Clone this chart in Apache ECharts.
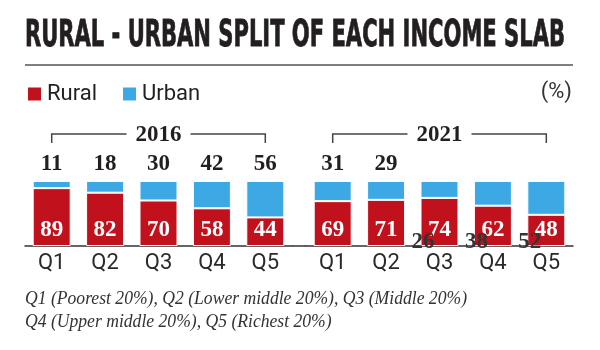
<!DOCTYPE html>
<html>
<head>
<meta charset="utf-8">
<script src="https://cdn.jsdelivr.net/npm/echarts@6/dist/echarts.min.js"></script>
<style>
    html, body { margin: 0; padding: 0; background: #fff; }
    #chart { width: 600px; height: 350px; }
</style>
</head>
<body>
<div id="chart"></div>
<script>
    'use strict'

    /* Chart data */
    var titleText = 'RURAL - URBAN SPLIT OF EACH INCOME SLAB';
    var unitText = '(%)';
    var quintiles = ['Q1', 'Q2', 'Q3', 'Q4', 'Q5'];
    var years = ['2016', '2021'];
    var rural2016 = [89, 82, 70, 58, 44];
    var urban2016 = [11, 18, 30, 42, 56];
    var rural2021 = [69, 71, 74, 62, 48];
    var urban2021 = [31, 29, 26, 38, 52];
    var notes = [
        'Q1 (Poorest 20%), Q2 (Lower middle 20%), Q3 (Middle 20%)',
        'Q4 (Upper middle 20%), Q5 (Richest 20%)'
    ];

    var red = '#c1111d';
    var blue = '#3ca9e5';
    var ink = '#231f20';
    var numFont = '"Liberation Serif", serif';
    var sansFont = 'Roboto, sans-serif';

    // in 2021 the urban labels of Q3-Q5 sit down by the axis in the original
    var strayLabels = [2, 3, 4];

    var grids = [
        { left: 25, width: 267, top: 181, height: 65 },
        { left: 306, width: 267, top: 181, height: 65 }
    ];

    var measure = document.createElement('canvas').getContext('2d');
    function textWidth(font, s) {
        measure.font = font;
        return measure.measureText(s).width;
    }

    function ruralSeries(data, idx) {
        return {
            name: 'Rural',
            type: 'bar',
            stack: 'y' + idx,
            xAxisIndex: idx,
            yAxisIndex: idx,
            barWidth: 38,
            data: data,
            itemStyle: { color: red, borderColor: '#fff', borderWidth: 1 },
            label: {
                show: true,
                position: 'insideBottom',
                distance: 4,
                color: '#fff',
                fontFamily: numFont,
                fontWeight: 'bold',
                fontSize: 23
            }
        };
    }

    function urbanSeries(data, idx, stray) {
        return {
            name: 'Urban',
            type: 'bar',
            stack: 'y' + idx,
            xAxisIndex: idx,
            yAxisIndex: idx,
            barWidth: 38,
            data: data.map(function (v, i) {
                if (stray.indexOf(i) < 0) return v;
                return {
                    value: v,
                    label: { position: [-9, 61], align: 'left', verticalAlign: 'middle', color: '#333' }
                };
            }),
            itemStyle: { color: blue, borderColor: '#fff', borderWidth: 1 },
            label: {
                show: true,
                position: 'top',
                distance: 5,
                color: ink,
                fontFamily: numFont,
                fontWeight: 'bold',
                fontSize: 23
            }
        };
    }

    function xAxis(idx) {
        return {
            type: 'category',
            gridIndex: idx,
            data: quintiles,
            axisLine: { lineStyle: { color: '#333', width: 1.5 } },
            axisTick: { length: 7, lineStyle: { color: '#333', width: 1.5 } },
            axisLabel: { fontFamily: sansFont, fontSize: 22, color: '#2a2a2a', margin: 6 }
        };
    }

    function yAxis(idx) {
        return { type: 'value', gridIndex: idx, min: 0, max: 100, show: false };
    }

    var chart = echarts.init(document.getElementById('chart'), null, { renderer: 'canvas' });

    chart.setOption({
        animation: false,
        backgroundColor: '#fff',
        color: [red, blue],
        legend: {
            left: 21,
            top: 78,
            icon: 'rect',
            itemWidth: 15,
            itemHeight: 15,
            itemGap: 24,
            data: ['Rural', 'Urban'],
            textStyle: { fontFamily: sansFont, fontSize: 22, color: ink }
        },
        grid: grids,
        xAxis: [xAxis(0), xAxis(1)],
        yAxis: [yAxis(0), yAxis(1)],
        series: [
            ruralSeries(rural2016, 0),
            urbanSeries(urban2016, 0, []),
            ruralSeries(rural2021, 1),
            urbanSeries(urban2021, 1, strayLabels)
        ]
    });

    /* Title, rule, unit, notes and year brackets */
    var titleFont = 'bold 38px "DejaVu Sans Condensed"';
    var titleScale = 540 / textWidth(titleFont, titleText);
    var noteFont = 'italic 19px "Liberation Serif"';
    var noteScale = 442 / textWidth(noteFont, notes[0]);

    var graphics = [
        {
            type: 'text', x: 25, y: 36, scaleX: titleScale,
            style: { text: titleText, font: titleFont, fill: ink, stroke: ink, lineWidth: 0.8, verticalAlign: 'middle' }
        },
        {
            type: 'line', shape: { x1: 25, y1: 65, x2: 573, y2: 65 },
            style: { stroke: '#555', lineWidth: 1.5 }
        },
        {
            type: 'text', x: 572, y: 92,
            style: { text: unitText, fontFamily: sansFont, fontSize: 22, fill: '#333', align: 'right', verticalAlign: 'middle' }
        },
        {
            // join the two axis lines across the gap
            type: 'line',
            shape: { x1: grids[0].left + grids[0].width, y1: 246, x2: grids[1].left, y2: 246 },
            style: { stroke: '#333', lineWidth: 1.5 }
        }
    ];

    notes.forEach(function (n, i) {
        graphics.push({
            type: 'text', x: 25, y: 299 + i * 23, scaleX: noteScale,
            style: { text: n, font: noteFont, fill: '#333', verticalAlign: 'middle' }
        });
    });

    years.forEach(function (yr, i) {
        var x1 = chart.convertToPixel({ xAxisIndex: i }, quintiles[0]);
        var x2 = chart.convertToPixel({ xAxisIndex: i }, quintiles[quintiles.length - 1]);
        var mid = (x1 + x2) / 2;
        var gap = 32;
        graphics.push({
            type: 'polyline',
            shape: { points: [[x1, 143], [x1, 134], [mid - gap, 134]] },
            style: { stroke: '#444', lineWidth: 1.5, fill: null }
        });
        graphics.push({
            type: 'polyline',
            shape: { points: [[mid + gap, 134], [x2, 134], [x2, 143]] },
            style: { stroke: '#444', lineWidth: 1.5, fill: null }
        });
        graphics.push({
            type: 'text', x: mid, y: 135,
            style: { text: yr, fontFamily: numFont, fontWeight: 'bold', fontSize: 23, fill: ink, align: 'center', verticalAlign: 'middle' }
        });
    });

    chart.setOption({ graphic: graphics });
</script>
</body>
</html>
